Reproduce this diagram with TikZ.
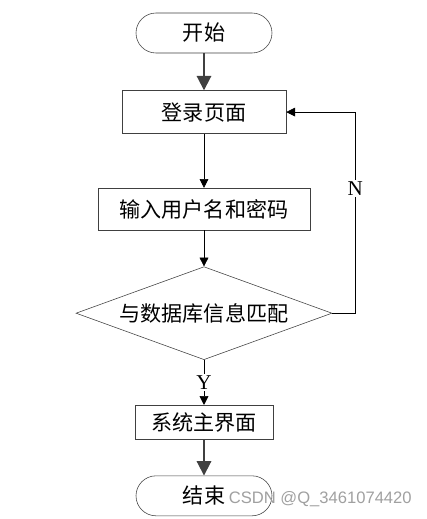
\documentclass[tikz,border=0pt]{standalone}
\usepackage{fontspec}
\setmainfont{Liberation Serif}
\newfontfamily\cjk{Noto Sans CJK SC}
\newfontfamily\wmfont{Liberation Sans}
\usepackage{tikz}
\usetikzlibrary{arrows.meta,positioning,shapes.geometric}
\definecolor{LineGray}{HTML}{404040}
\definecolor{MarkGray}{HTML}{A0A0A0}
\tikzset{
  fcterm/.style={draw=LineGray, fill=white, rounded corners=0.5cm, align=center,
                 font=\cjk\fontsize{15}{18}\selectfont, minimum height=1cm, minimum width=3.4cm, inner sep=0pt},
  fcbox/.style={draw=LineGray, fill=white, align=center,
                 font=\cjk\fontsize{15}{18}\selectfont, inner sep=0pt},
  fcdec/.style={draw=LineGray, fill=white, diamond, aspect=2.75, inner sep=0pt,
                 font=\cjk\fontsize{15}{18}\selectfont, minimum width=6.4cm, minimum height=2.325cm},
  fcarr/.style={-{Triangle[length=2.2mm, width=2.2mm]}, thin, black},
  fcbold/.style={-{Triangle[length=3.6mm, width=3.6mm]}, line width=1.4pt, LineGray},
  fclab/.style={fill=white, inner sep=1pt, font=\fontsize{15}{18}\selectfont}
}
\begin{document}
\begin{tikzpicture}
\useasboundingbox (0,0) rectangle (10.675,-12.975);
\node[fcterm] (start) at (5.1,-0.825) {开始};
\node[fcbox, below=0.925cm of start, minimum width=4.1cm, minimum height=1.075cm] (login) {登录页面};
\node[fcbox, below=1.35cm of login, minimum width=5.3cm, minimum height=1.05cm] (input) {输入用户名和密码};
\node[fcdec, below=0.9cm of input] (match) {与数据库信息匹配};
\node[fcbox, below=1.125cm of match, minimum width=3.45cm, minimum height=0.85cm] (home) {系统主界面};
\node[fcterm, below=0.9cm of home] (stop) {结束};
\coordinate (back) at ([xshift=0.575cm]match.east);
% links
\draw[fcbold] (start) -- (login);
\draw[fcarr] (login) -- (input);
\draw[fcarr] (input) -- (match);
\draw[fcarr] (match) -- node[fclab] (yes) {Y} (home);
\draw[fcbold] (home) -- (stop);
\draw[fcarr] (match.east) -- (back) |- node[fclab, pos=0.31] (no) {N} (login.east);
% watermark
\node[text=MarkGray, font=\wmfont\fontsize{11.8}{14}\selectfont, anchor=east, inner sep=0pt] (wm) at (10.3,-12.475) {CSDN @Q\_3461074420};
\end{tikzpicture}
\end{document}
